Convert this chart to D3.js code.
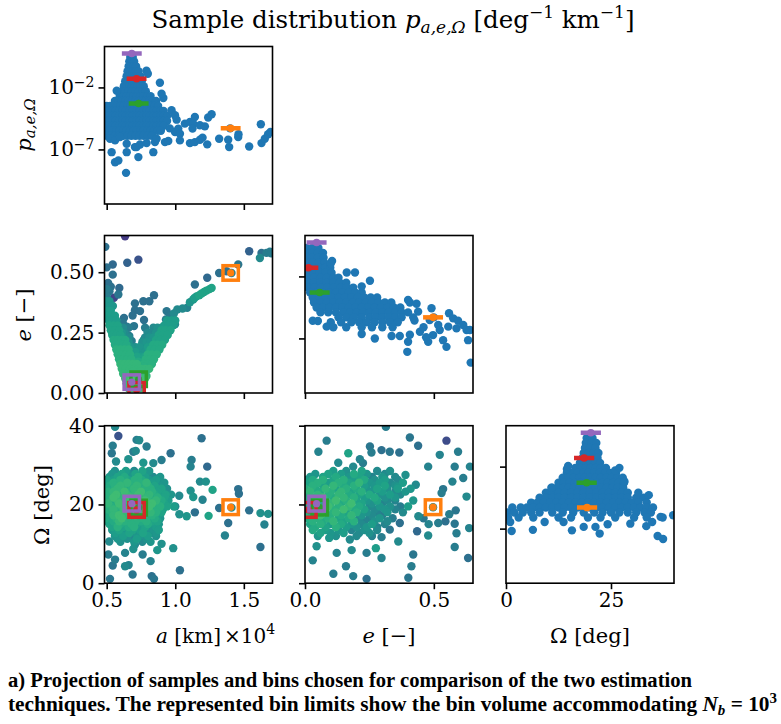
<!DOCTYPE html>
<html>
<head>
<meta charset="utf-8">
<script src="https://cdn.jsdelivr.net/npm/d3@7"></script>
<style>body{margin:0;background:#fff}</style>
</head>
<body>
<div id="canvas"></div>
<script>
// ---- data ----
// p(a): rows of [log10 p, a values (x1e4 km)]
const paRows = [
  [0.45, [0.672, 0.69]],
  [0.1, [0.665, 0.683, 0.70]],
  [-0.3, [0.66, 0.678, 0.696, 0.714]],
  [-0.7, [0.652, 0.672, 0.692, 0.712, 0.732]],
  [-1.1, [0.645, 0.665, 0.685, 0.705, 0.725, 0.745]],
  [-1.5, [0.635, 0.655, 0.675, 0.695, 0.715, 0.735, 0.755]],
  [-1.9, [0.625, 0.645, 0.665, 0.685, 0.705, 0.725, 0.745, 0.77]],
  [-2.3, [0.61, 0.635, 0.66, 0.685, 0.71, 0.735, 0.76, 0.785]],
  [-2.7, [0.595, 0.62, 0.645, 0.67, 0.695, 0.72, 0.745, 0.77, 0.795, 0.82]],
  [-3.1, [0.56, 0.585, 0.61, 0.635, 0.66, 0.685, 0.71, 0.735, 0.76, 0.785, 0.81, 0.835, 0.86]],
  [-3.5, [0.50, 0.525, 0.55, 0.575, 0.60, 0.625, 0.65, 0.675, 0.70, 0.725, 0.75, 0.775, 0.80, 0.825, 0.85, 0.875]],
  [-3.9, [0.49, 0.515, 0.54, 0.565, 0.59, 0.615, 0.64, 0.665, 0.69, 0.715, 0.74, 0.765, 0.79, 0.815, 0.84, 0.865, 0.89, 0.915]],
  [-4.3, [0.49, 0.515, 0.54, 0.565, 0.59, 0.615, 0.64, 0.665, 0.69, 0.715, 0.74, 0.765, 0.79, 0.815, 0.84, 0.865, 0.89, 0.915, 0.94]],
  [-4.7, [0.49, 0.515, 0.54, 0.565, 0.59, 0.615, 0.64, 0.665, 0.69, 0.715, 0.74, 0.765, 0.79, 0.815, 0.84, 0.865, 0.89, 0.915, 0.94]],
  [-5.1, [0.49, 0.515, 0.54, 0.565, 0.59, 0.615, 0.64, 0.665, 0.69, 0.715, 0.74, 0.765, 0.79, 0.815, 0.84, 0.865, 0.89, 0.915]],
  [-5.5, [0.495, 0.52, 0.545, 0.57, 0.595, 0.62, 0.645, 0.67, 0.695, 0.72, 0.745, 0.77, 0.795, 0.82, 0.845, 0.87, 0.895]],
  [-5.9, [0.50, 0.53, 0.56, 0.59, 0.62, 0.65, 0.68, 0.71, 0.74, 0.77, 0.80, 0.83]]
];
// p(a): loose samples [a, log10 p]
const paLoose = [
  [0.573, -2.27], [0.79, -0.65], [0.80, -0.9], [0.888, -1.62], [0.913, -2.85], [0.90, -2.5],
  [0.973, -3.84], [0.998, -4.24], [1.01, -4.6], [1.022, -5.32], [0.998, -5.59], [0.96, -5.3],
  [1.07, -4.92], [1.034, -5.73], [0.524, -6.14], [0.561, -6.27], [0.597, -6.0], [0.646, -6.54],
  [0.718, -6.81], [0.743, -6.6], [0.791, -6.49], [0.852, -6.41], [0.864, -6.14], [0.925, -6.41],
  [0.949, -6.32], [1.034, -6.27], [0.536, -7.22], [0.646, -7.22], [0.706, -6.81], [0.731, -7.62],
  [0.84, -7.22], [0.561, -8.03], [0.585, -7.89], [0.641, -8.89], [1.107, -4.78], [1.143, -4.38],
  [1.131, -4.92], [1.126, -5.32], [1.18, -5.05], [1.216, -5.14], [1.24, -4.43], [1.265, -4.16],
  [1.107, -6.49], [1.143, -6.41], [1.18, -6.22], [1.199, -6.05], [1.233, -6.59], [1.32, -6.14],
  [1.386, -6.22], [1.393, -6.81], [1.459, -6.0], [1.461, -5.78], [1.539, -6.76], [1.624, -4.97],
  [1.629, -6.49], [1.653, -6.14], [1.677, -5.78], [1.694, -5.59], [1.40, -5.3]
];

// p(e): rows of [log10 p, e values]
const peRows = [
  [0.3, [0.005, 0.028, 0.052]],
  [-0.1, [0.005, 0.028, 0.05, 0.07]],
  [-0.5, [0.005, 0.028, 0.05, 0.072]],
  [-0.9, [0.008, 0.03, 0.052, 0.075]],
  [-1.3, [0.01, 0.032, 0.055, 0.078, 0.098]],
  [-1.7, [0.01, 0.033, 0.056, 0.08, 0.103]],
  [-2.1, [0.01, 0.035, 0.06, 0.085, 0.11, 0.13]],
  [-2.5, [0.01, 0.035, 0.06, 0.085, 0.11, 0.135, 0.16]],
  [-2.9, [0.012, 0.037, 0.062, 0.087, 0.112, 0.137, 0.162, 0.187]],
  [-3.3, [0.02, 0.045, 0.07, 0.095, 0.12, 0.145, 0.17, 0.195, 0.22]],
  [-3.7, [0.03, 0.055, 0.08, 0.105, 0.13, 0.155, 0.18, 0.205, 0.23, 0.255, 0.28]],
  [-4.1, [0.035, 0.06, 0.085, 0.11, 0.135, 0.16, 0.185, 0.21, 0.235, 0.26, 0.285, 0.31, 0.335]],
  [-4.5, [0.045, 0.07, 0.095, 0.12, 0.145, 0.17, 0.195, 0.22, 0.245, 0.27, 0.295, 0.32, 0.345, 0.37]],
  [-4.9, [0.06, 0.09, 0.12, 0.15, 0.175, 0.2, 0.225, 0.25, 0.275, 0.3, 0.325, 0.35, 0.375, 0.40]],
  [-5.3, [0.13, 0.16, 0.19, 0.22, 0.25, 0.275, 0.30, 0.325, 0.35, 0.375]],
  [-5.7, [0.10, 0.14, 0.18, 0.21, 0.24, 0.27, 0.30, 0.33, 0.36]],
  [-6.1, [0.16, 0.22, 0.26, 0.30, 0.34]]
];
const peLoose = [
  [0.162, -1.68], [0.194, -1.68], [0.105, -0.75], [0.1, -0.95], [0.252, -2.35], [0.22, -2.8],
  [0.03, -5.57], [0.05, -5.6], [0.084, -6.05], [0.11, -6.1], [0.22, -6.65], [0.271, -7.0],
  [0.336, -6.8], [0.368, -6.8], [0.407, -6.7], [0.40, -7.27], [0.478, -7.27], [0.549, -7.68],
  [0.633, -7.14], [0.397, -8.08], [0.643, -8.95], [0.40, -3.9], [0.407, -4.1], [0.433, -4.2],
  [0.491, -4.57], [0.439, -4.84], [0.484, -5.51], [0.559, -4.97], [0.575, -5.38], [0.594, -5.57],
  [0.588, -6.19], [0.614, -5.92], [0.627, -6.32], [0.556, -6.05], [0.523, -6.32], [0.497, -6.73],
  [0.536, -7.14], [0.517, -5.92], [0.64, -6.32], [0.425, -5.55], [0.446, -6.46], [0.47, -6.9],
  [0.42, -5.3], [0.46, -6.1], [0.50, -5.3]
];

// p(Omega): rows of [log10 p, Omega values (deg)]
const pomRows = [
  [0.3, [19.2, 20.6]],
  [-0.1, [19.0, 20.3, 21.5]],
  [-0.5, [18.8, 20.0, 21.3]],
  [-0.9, [18.5, 19.7, 20.9, 22.0]],
  [-1.3, [18.2, 19.4, 20.6, 21.8]],
  [-1.7, [17.6, 18.8, 20.0, 21.2, 22.4]],
  [-2.1, [16.5, 17.8, 19.0, 20.2, 21.4, 22.6, 23.8]],
  [-2.5, [14.5, 15.8, 17.1, 18.4, 19.7, 21.0, 22.3, 23.6, 24.9, 26.2]],
  [-2.9, [13.5, 14.8, 16.1, 17.4, 18.7, 20.0, 21.3, 22.6, 23.9, 25.2, 26.5, 27.8]],
  [-3.3, [12.5, 13.8, 15.1, 16.4, 17.7, 19.0, 20.3, 21.6, 22.9, 24.2, 25.5, 26.8, 28.1]],
  [-3.7, [11.0, 12.3, 13.6, 14.9, 16.2, 17.5, 18.8, 20.1, 21.4, 22.7, 24.0, 25.3, 26.6, 27.9]],
  [-4.1, [9.5, 11.0, 12.5, 14.0, 15.5, 17.0, 18.5, 20.0, 21.5, 23.0, 24.5, 26.0, 27.5, 29.0]],
  [-4.5, [8.0, 9.5, 11.0, 12.5, 14.0, 15.5, 17.0, 18.5, 20.0, 21.5, 23.0, 24.5, 26.0, 27.5, 29.0, 31.0, 32.8]],
  [-4.9, [6.0, 7.5, 9.0, 10.5, 12.0, 13.5, 15.0, 16.5, 18.0, 19.5, 21.0, 22.5, 24.0, 25.5, 27.0, 28.5, 30.0, 31.5, 33.5]],
  [-5.3, [1.5, 3.5, 5.0, 6.5, 8.0, 9.5, 11.0, 12.5, 14.0, 15.5, 17.0, 18.5, 20.0, 21.5, 23.0, 24.5, 26.0, 27.5, 29.0, 30.5, 32.0, 33.5, 35.0]],
  [-5.7, [0.3, 2.0, 4.0, 6.0, 8.0, 11.0, 13.5, 16.0, 18.5, 21.0, 23.0, 25.0, 27.0, 29.0, 31.0, 33.0, 34.5]],
  [-6.1, [0.5, 3.0, 6.5, 12.5, 15.5, 19.5, 22.5, 26.0, 30.5, 33.5]]
];
const pomLoose = [
  [1.0, -6.46], [6.4, -7.1], [9.2, -6.46], [13.7, -6.46], [15.7, -7.14], [18.5, -6.86], [21.3, -6.86],
  [22.3, -7.4], [24.2, -6.65], [29.6, -6.6], [33.4, -6.8], [34.8, -6.46], [36.1, -7.6], [37.4, -7.84],
  [1.35, -7.19], [39.8, -5.92], [36.8, -6.05], [37.3, -6.1], [34.0, -4.3], [31.5, -4.1], [14.5, -2.2],
  [26.0, -2.3], [28.2, -3.2], [10.8, -3.7], [27.0, -2.1], [14.8, -1.95]
];

// e(a): V-shaped arms as rows of [e, log10 p, a values]
const aeArms = [
  [0.38, -5, [0.495, 0.52]], [0.36, -5, [0.50, 0.525, 0.545]], [0.34, -4.5, [0.505, 0.53]],
  [0.32, -4.5, [0.51, 0.535, 0.56]], [0.30, -4.5, [0.515, 0.54, 0.57]], [0.28, -4, [0.52, 0.55, 0.58]],
  [0.26, -4, [0.53, 0.56, 0.59]], [0.24, -4, [0.54, 0.57, 0.60]], [0.22, -3.5, [0.55, 0.58, 0.61, 0.635]],
  [0.20, -3.5, [0.56, 0.59, 0.62, 0.645]], [0.18, -3, [0.57, 0.60, 0.63, 0.66]],
  [0.16, -3, [0.58, 0.61, 0.64, 0.67]], [0.14, -3, [0.59, 0.62, 0.65, 0.68]],
  [0.12, -2.5, [0.60, 0.63, 0.66, 0.69, 0.72]], [0.10, -2.5, [0.61, 0.64, 0.67, 0.70, 0.73]],
  [0.08, -2.5, [0.62, 0.65, 0.68, 0.71, 0.74, 0.77]], [0.06, -2, [0.635, 0.66, 0.69, 0.72, 0.75, 0.78]],
  [0.04, -2, [0.645, 0.675, 0.705, 0.735, 0.765]], [0.02, -2, [0.66, 0.69, 0.72, 0.75]],
  [0.30, -4.5, [0.94, 0.97, 1.0]], [0.28, -4.5, [0.92, 0.95, 0.985]], [0.26, -4, [0.90, 0.93, 0.965]],
  [0.24, -4, [0.88, 0.91, 0.945]], [0.22, -4, [0.86, 0.89, 0.925]], [0.20, -3.5, [0.84, 0.87, 0.905]],
  [0.18, -3.5, [0.82, 0.85, 0.885]], [0.16, -3, [0.80, 0.83, 0.865]], [0.14, -3, [0.785, 0.815, 0.845]],
  [0.12, -3, [0.77, 0.80, 0.83]], [0.10, -2.5, [0.75, 0.78, 0.81]]
];
// e(a): loose samples [a, e, log10 p]
const aeLoose = [
  [0.634, 0.649, -11.5], [0.49, 0.605, -8], [0.544, 0.532, -8.5], [0.50, 0.52, -8], [0.544, 0.49, -8],
  [0.65, 0.539, -9], [0.731, 0.552, -10], [0.51, 0.456, -8], [0.53, 0.44, -8], [0.592, 0.435, -8.5],
  [0.52, 0.421, -7.5], [0.553, 0.394, -11], [0.585, 0.408, -7.5], [0.50, 0.40, -7], [0.50, 0.43, -7],
  [0.706, 0.371, -8], [0.767, 0.38, -8], [0.811, 0.38, -8], [0.845, 0.405, -8], [0.706, 0.343, -8],
  [0.743, 0.339, -8], [0.689, 0.321, -8], [0.772, 0.302, -8], [0.626, 0.311, -8], [0.617, 0.291, -7.5],
  [0.646, 0.274, -7.5], [0.699, 0.277, -7.5], [0.665, 0.236, -7], [0.682, 0.215, -7],
  [0.937, 0.339, -7.5], [0.961, 0.321, -7.5], [0.932, 0.304, -7], [0.998, 0.284, -6], [0.913, 0.249, -6.5],
  [0.876, 0.229, -6], [0.84, 0.201, -6], [0.816, 0.249, -7], [0.791, 0.222, -7.5], [0.755, 0.194, -6],
  [0.66, 0.27, -7], [0.64, 0.23, -6], [0.68, 0.19, -5.5], [0.77, 0.22, -6], [0.80, 0.20, -5],
  [0.74, 0.17, -5.5], [0.70, 0.15, -5], [0.78, 0.13, -4.5], [0.66, 0.12, -4], [0.72, 0.11, -4],
  [0.78, 0.27, -7], [0.80, 0.25, -6], [0.72, 0.18, -5], [0.76, 0.16, -5], [0.70, 0.13, -4.5],
  [1.015, 0.346, -6], [1.053, 0.35, -6], [1.087, 0.353, -6.5], [0.99, 0.329, -6],
  [1.265, 0.435, -4], [1.25, 0.43, -4], [1.228, 0.424, -4], [1.21, 0.418, -4], [1.192, 0.412, -4],
  [1.175, 0.405, -4], [1.155, 0.40, -4.5], [1.14, 0.393, -4.5], [1.131, 0.387, -5], [1.107, 0.376, -5],
  [1.143, 0.449, -8], [1.233, 0.477, -8.5], [1.32, 0.497, -8], [1.374, 0.504, -8], [1.41, 0.497, -7],
  [1.459, 0.532, -7.5], [1.539, 0.587, -9], [1.617, 0.559, -6], [1.629, 0.58, -8], [1.665, 0.58, -7],
  [1.69, 0.585, -7], [1.70, 0.578, -7]
];
// e(a): samples filling the inside of the V [a, e, log10 p]
const aeInner = [
  [0.62, 0.27, -6], [0.84, 0.27, -6], [0.87, 0.27, -5.5], [0.90, 0.27, -6],
  [0.61, 0.25, -5], [0.63, 0.25, -6], [0.80, 0.25, -6.5], [0.83, 0.25, -6], [0.86, 0.25, -5.5],
  [0.62, 0.23, -5], [0.66, 0.23, -6], [0.78, 0.23, -6], [0.81, 0.23, -5.5], [0.84, 0.23, -5],
  [0.63, 0.21, -5], [0.66, 0.21, -5.5], [0.76, 0.21, -5.5], [0.79, 0.21, -5], [0.82, 0.21, -5],
  [0.64, 0.19, -4.5], [0.67, 0.19, -5], [0.71, 0.19, -5.5], [0.74, 0.19, -5], [0.77, 0.19, -5.5], [0.80, 0.19, -4.5],
  [0.65, 0.17, -4.5], [0.68, 0.17, -5], [0.71, 0.17, -4.5], [0.78, 0.17, -5], [0.81, 0.17, -4],
  [0.66, 0.15, -4], [0.69, 0.15, -4.5], [0.72, 0.15, -4], [0.75, 0.15, -4.5], [0.78, 0.15, -4],
  [0.67, 0.13, -3.5], [0.70, 0.13, -4], [0.73, 0.13, -3.5], [0.76, 0.13, -4], [0.79, 0.13, -3.5],
  [0.68, 0.11, -3.5], [0.71, 0.11, -3], [0.74, 0.11, -3.5], [0.77, 0.11, -3], [0.80, 0.11, -3.5],
  [0.66, 0.09, -3], [0.69, 0.09, -2.5], [0.72, 0.09, -3], [0.75, 0.09, -2.5], [0.78, 0.09, -3],
  [0.64, 0.07, -2.5], [0.67, 0.07, -2], [0.70, 0.07, -2.5], [0.73, 0.07, -2], [0.76, 0.07, -2.5], [0.79, 0.07, -2.5],
  [0.65, 0.05, -2], [0.68, 0.05, -1.5], [0.71, 0.05, -2], [0.74, 0.05, -1.5], [0.77, 0.05, -2],
  [0.66, 0.03, -2], [0.70, 0.03, -1.5], [0.73, 0.03, -2], [0.76, 0.03, -2]
];

// Omega(a): rows of [Omega, [[a, log10 p], ...]]
const aomRows = [
  [28.5, [[0.56, -5.5], [0.64, -4.5], [0.70, -6], [0.76, -4], [0.81, -5]]],
  [27.75, [[0.54, -5], [0.61, -4], [0.66, -5.5], [0.71, -4], [0.79, -5.5]]],
  [27, [[0.52, -5], [0.58, -4], [0.63, -3.5], [0.68, -5], [0.73, -3], [0.78, -4.5], [0.84, -6], [0.89, -5]]],
  [26.25, [[0.50, -4], [0.55, -4.5], [0.60, -3], [0.655, -4], [0.705, -3], [0.755, -3.5], [0.81, -5], [0.86, -4.5]]],
  [25.5, [[0.50, -4.5], [0.55, -3], [0.60, -4], [0.65, -2.5], [0.70, -3.5], [0.74, -3], [0.79, -2.5], [0.83, -4.5], [0.87, -5.5], [0.92, -5]]],
  [24.75, [[0.52, -3.5], [0.56, -3], [0.60, -2.5], [0.64, -3.5], [0.68, -3], [0.72, -2.5], [0.76, -4], [0.80, -3], [0.85, -4], [0.89, -5]]],
  [24, [[0.50, -3.5], [0.54, -5], [0.58, -2.5], [0.62, -3], [0.66, -4], [0.70, -2.5], [0.74, -3.5], [0.78, -3], [0.82, -3], [0.86, -4.5], [0.90, -4], [0.94, -5.5]]],
  [23.25, [[0.51, -3], [0.55, -2.5], [0.59, -3.5], [0.63, -2], [0.67, -3], [0.71, -2.5], [0.75, -2], [0.79, -3.5], [0.83, -3], [0.87, -4], [0.91, -5]]],
  [22.5, [[0.49, -4], [0.53, -3], [0.57, -2], [0.61, -3.5], [0.65, -2.5], [0.69, -3], [0.73, -2], [0.77, -3], [0.81, -2.5], [0.85, -3.5], [0.89, -4.5], [0.93, -4], [0.97, -5]]],
  [21.75, [[0.51, -3], [0.55, -2], [0.59, -3], [0.63, -2.5], [0.67, -2], [0.71, -3], [0.75, -3], [0.79, -2.5], [0.83, -3.5], [0.87, -3], [0.92, -4]]],
  [21, [[0.50, -3.5], [0.54, -4.5], [0.58, -2.5], [0.62, -3], [0.66, -2], [0.70, -3.5], [0.74, -2.5], [0.78, -2], [0.82, -3], [0.86, -2.5], [0.90, -3.5], [0.95, -4.5]]],
  [20.25, [[0.51, -2.5], [0.55, -3.5], [0.59, -2], [0.63, -3], [0.67, -2.5], [0.71, -2], [0.75, -3], [0.79, -2.5], [0.83, -2], [0.87, -3.5], [0.92, -4]]],
  [19.5, [[0.49, -4], [0.53, -3], [0.57, -3.5], [0.61, -2.5], [0.65, -3], [0.69, -2], [0.73, -3], [0.77, -2.5], [0.81, -2], [0.85, -3], [0.89, -3], [0.94, -4], [0.99, -4.5]]],
  [18.75, [[0.51, -3], [0.55, -2.5], [0.59, -3], [0.63, -2], [0.67, -2.5], [0.71, -3.5], [0.75, -2.5], [0.79, -3], [0.83, -3], [0.87, -3.5], [0.91, -4.5]]],
  [18, [[0.50, -4.5], [0.54, -3], [0.58, -4], [0.62, -2.5], [0.66, -3.5], [0.70, -3], [0.74, -2], [0.78, -3.5], [0.82, -2.5], [0.86, -3], [0.90, -4]]],
  [17.25, [[0.51, -3.5], [0.55, -2.5], [0.59, -2], [0.63, -3.5], [0.67, -2.5], [0.71, -2], [0.75, -3], [0.79, -4], [0.83, -3], [0.87, -4.5]]],
  [16.5, [[0.49, -3.5], [0.53, -4], [0.57, -3], [0.61, -2], [0.65, -3], [0.69, -4], [0.73, -3], [0.77, -3], [0.81, -4], [0.85, -3.5], [0.89, -5]]],
  [15.75, [[0.51, -4], [0.55, -3.5], [0.59, -2.5], [0.63, -3], [0.67, -4], [0.71, -3], [0.75, -3.5], [0.79, -3], [0.83, -4], [0.87, -4]]],
  [15, [[0.52, -4], [0.56, -5], [0.60, -3.5], [0.64, -4.5], [0.68, -3], [0.72, -4], [0.76, -5], [0.80, -3.5], [0.84, -4.5], [0.88, -5]]],
  [14.25, [[0.54, -4], [0.58, -3], [0.62, -4], [0.66, -3.5], [0.70, -3], [0.74, -4.5], [0.78, -4], [0.82, -5], [0.86, -4.5]]],
  [13.5, [[0.54, -5], [0.59, -4], [0.64, -5.5], [0.69, -4], [0.74, -4.5], [0.79, -6], [0.84, -5], [0.88, -4.5]]],
  [12.75, [[0.565, -4.5], [0.615, -5], [0.665, -4], [0.715, -5], [0.765, -4], [0.815, -5.5], [0.86, -5]]],
  [12, [[0.56, -5], [0.62, -4.5], [0.68, -6], [0.74, -5], [0.80, -4.5], [0.86, -5.5]]],
  [11.25, [[0.58, -5], [0.65, -5.5], [0.72, -4.5], [0.79, -5.5]]],
  [10.5, [[0.60, -5.5], [0.70, -5], [0.76, -6], [0.82, -5]]]
];
const aomLoose = [
  [0.561, 39.7, -6], [0.585, 37.4, -10], [1.192, 36.8, -8], [0.718, 36.4, -7], [0.737, 36.3, -6],
  [0.544, 34.9, -7], [0.537, 33.0, -7.5], [0.694, 33.4, -7], [0.712, 33.6, -6], [0.791, 34.7, -7],
  [0.966, 33.0, -8], [0.658, 31.5, -5.5], [0.568, 30.9, -6], [0.767, 30.6, -5], [0.84, 30.5, -6],
  [0.90, 31.3, -7], [1.119, 31.3, -7], [1.112, 29.6, -6.5], [1.233, 29.6, -8.5], [1.18, 25.8, -6],
  [1.223, 25.8, -5.5], [1.272, 23.7, -4], [1.112, 23.5, -5.5], [1.131, 21.9, -5], [1.199, 21.2, -6.5],
  [1.029, 22.2, -6], [1.459, 23.9, -8], [1.464, 22.7, -8], [1.32, 19.1, -8], [1.41, 19.2, -6],
  [1.539, 18.5, -8], [1.621, 17.8, -5.5], [1.677, 17.6, -5.5], [1.65, 14.9, -6.5], [1.386, 15.3, -8],
  [1.362, 12.1, -6.5], [1.621, 9.2, -8], [1.243, 17.1, -4], [1.083, 17.0, -5], [1.143, 18.0, -8],
  [1.0, 19.5, -6], [1.03, 17.5, -5.5], [0.519, 10.6, -6], [0.512, 7.3, -7], [0.561, 6.0, -7],
  [0.544, 4.5, -7.5], [0.524, 1.1, -7.5], [0.634, 7.7, -6.5], [0.694, 8.7, -5.5], [0.706, 9.8, -6],
  [0.762, 7.3, -7], [0.82, 5.6, -6.5], [0.689, 2.2, -7.5], [0.828, 1.8, -8], [0.845, 1.1, -7.5],
  [1.034, 3.3, -8], [0.985, 8.9, -5.5], [0.869, 8.4, -5], [0.634, 4.3, -6], [0.66, 4.6, -6.5], [0.90, 10.0, -5.5]
];

// Omega(e): rows of [Omega, [[e, log10 p], ...]]
const eomRows = [
  [28.5, [[0.11, -4.5], [0.16, -5.5], [0.22, -4], [0.28, -6], [0.33, -5.5]]],
  [27.75, [[0.04, -5], [0.09, -4], [0.14, -4.5], [0.19, -3.5], [0.24, -5], [0.31, -6]]],
  [27, [[0.02, -5], [0.07, -4], [0.12, -3.5], [0.17, -5], [0.21, -4], [0.26, -6.5], [0.30, -5], [0.35, -6]]],
  [26.25, [[0.00, -4.5], [0.03, -3.5], [0.07, -3], [0.11, -4], [0.15, -3], [0.19, -4.5], [0.23, -3.5], [0.27, -5.5], [0.31, -4.5], [0.36, -6]]],
  [25.5, [[0.01, -4], [0.05, -3], [0.09, -4.5], [0.13, -3], [0.17, -4], [0.21, -2.5], [0.25, -5], [0.29, -4.5], [0.33, -6], [0.38, -4.5]]],
  [24.75, [[0.03, -3], [0.07, -4], [0.11, -2.5], [0.15, -3.5], [0.19, -3], [0.23, -4.5], [0.27, -5], [0.31, -4], [0.35, -5.5]]],
  [24, [[0.00, -3], [0.04, -3.5], [0.08, -2.5], [0.12, -4], [0.16, -3], [0.20, -3.5], [0.24, -5], [0.28, -4], [0.32, -5.5], [0.36, -4.5], [0.41, -5]]],
  [23.25, [[0.02, -2.5], [0.06, -3.5], [0.10, -3], [0.14, -2.5], [0.18, -4], [0.22, -3], [0.26, -5], [0.30, -4.5], [0.35, -6], [0.39, -5]]],
  [22.5, [[0.01, -3.5], [0.05, -2.5], [0.09, -3], [0.13, -2.5], [0.17, -3.5], [0.21, -4], [0.25, -3.5], [0.29, -5.5], [0.33, -4.5], [0.37, -6]]],
  [21.75, [[0.03, -3], [0.07, -2], [0.11, -3.5], [0.15, -2.5], [0.19, -3], [0.23, -4.5], [0.27, -3.5], [0.31, -5.5], [0.35, -5]]],
  [21, [[0.00, -3], [0.04, -2.5], [0.08, -3.5], [0.12, -2], [0.16, -3], [0.20, -4], [0.24, -5], [0.28, -4], [0.32, -6]]],
  [20.25, [[0.02, -2.5], [0.06, -3.5], [0.10, -2.5], [0.14, -3.5], [0.18, -2], [0.22, -4], [0.26, -5.5], [0.30, -6.5]]],
  [19.5, [[0.01, -3.5], [0.05, -3], [0.09, -2], [0.13, -3], [0.17, -2.5], [0.21, -3.5], [0.25, -6], [0.29, -5], [0.33, -5.5], [0.37, -7]]],
  [18.75, [[0.03, -3], [0.07, -2.5], [0.11, -3], [0.15, -2], [0.19, -3.5], [0.23, -4], [0.27, -6], [0.31, -5], [0.35, -6.5]]],
  [18, [[0.00, -3], [0.04, -2.5], [0.08, -3.5], [0.12, -2.5], [0.16, -4], [0.20, -3], [0.24, -5.5], [0.28, -6.5], [0.32, -5], [0.38, -6]]],
  [17.25, [[0.02, -3.5], [0.06, -2], [0.10, -3], [0.14, -3.5], [0.18, -2.5], [0.22, -5], [0.26, -6], [0.30, -7]]],
  [16.5, [[0.01, -3.5], [0.05, -3], [0.09, -3], [0.13, -4], [0.17, -3.5], [0.21, -6], [0.25, -6.5], [0.29, -5], [0.34, -7]]],
  [15.75, [[0.03, -3], [0.07, -3.5], [0.11, -2.5], [0.15, -4], [0.19, -3], [0.23, -6.5], [0.27, -5.5], [0.32, -6]]],
  [15, [[0.02, -4], [0.06, -3], [0.10, -4.5], [0.14, -3.5], [0.18, -5], [0.22, -6], [0.26, -4.5], [0.31, -6.5]]],
  [14.25, [[0.04, -3.5], [0.08, -4], [0.12, -3], [0.16, -4.5], [0.20, -5.5], [0.24, -5], [0.28, -6.5]]],
  [13.5, [[0.03, -3.5], [0.08, -4.5], [0.13, -5], [0.18, -6.5], [0.23, -5.5], [0.28, -6]]],
  [12.75, [[0.06, -4], [0.10, -5], [0.15, -4.5], [0.21, -6], [0.25, -5.5]]],
  [12, [[0.05, -5], [0.12, -5.5], [0.20, -6], [0.26, -6.5]]]
];
const eomLoose = [
  [0.314, 39.7, -7], [0.407, 37.0, -7.5], [0.084, 36.2, -7], [0.549, 36.2, -10.5], [0.052, 33.4, -6.5],
  [0.252, 34.7, -7.5], [0.258, 33.2, -7], [0.439, 34.9, -8], [0.329, 33.4, -7.5], [0.366, 33.2, -8],
  [0.523, 32.6, -6.5], [0.594, 33.4, -7], [0.168, 33.0, -4], [0.129, 30.6, -6], [0.187, 29.6, -6],
  [0.213, 31.5, -6.5], [0.297, 33.8, -8], [0.225, 30.5, -7], [0.478, 29.6, -6.5], [0.581, 29.6, -7],
  [0.64, 29.6, -6.5], [0.614, 26.7, -7], [0.572, 25.8, -6.5], [0.536, 23.9, -7.5], [0.53, 22.9, -7],
  [0.627, 22.0, -6], [0.585, 18.5, -7.5], [0.545, 15.7, -8], [0.581, 15.1, -7.5], [0.517, 15.3, -7],
  [0.588, 12.7, -7], [0.637, 14.0, -6.5], [0.581, 9.2, -7], [0.633, 6.4, -8], [0.478, 12.1, -6],
  [0.435, 13.2, -8.5], [0.368, 15.3, -8], [0.42, 7.3, -7.5], [0.413, 4.3, -7], [0.401, 1.4, -7.5],
  [0.362, 10.6, -6], [0.275, 8.9, -4.5], [0.11, 2.4, -7], [0.187, 1.8, -7], [0.239, 1.1, -8],
  [0.159, 4.3, -7], [0.123, 7.7, -6.5], [0.181, 8.4, -6], [0.239, 7.7, -7], [0.297, 6.4, -6.5],
  [0.03, 5.8, -6.5], [0.045, 9.4, -5.5], [0.094, 11.5, -5], [0.174, 11.1, -6], [0.297, 11.7, -7],
  [0.329, 13.6, -7.5], [0.497, 19.3, -6], [0.44, 17, -6], [0.42, 21, -5], [0.40, 19.5, -4.5],
  [0.46, 16.5, -7.5], [0.35, 21, -6.5], [0.36, 24.5, -5], [0.39, 27.5, -5.5], [0.43, 25, -6],
  [0.56, 17.5, -7], [0.48, 15, -6.5]
];

// chosen bins: purple, red, green, orange
const binColors = ["#9467bd", "#d62728", "#2ca02c", "#ff7f0e"];
const binA = [0.683, 0.718, 0.733, 1.404];
const binE = [0.045, 0.013, 0.057, 0.497];
const binOm = [20.2, 18.6, 19.2, 19.3];
const binLogP = [0.73, -1.3, -3.3, -5.3];
const binHalfA = 0.056, binHalfE = 0.030, binHalfOm = 1.87;

// axis settings
const aDomain = [0.484, 1.709], eDomain = [0, 0.652], omDomain = [0, 40], logPDomain = [-11.4, 1.3];
const aTicks = [0.5, 1.0, 1.5], eTicksX = [0, 0.5], eTicksY = [0, 0.25, 0.5];
const omTicksY = [0, 20, 40], omTicksX = [0, 25], pTicks = [1e-2, 1e-7];

// ---- layout ----
const colX = [104.5, 305, 506], rowY = [46.5, 235.5, 425.7];
const pw = 168, ph = 157.5;
const tickFont = "DejaVu Serif";
const blue = "#1f77b4";
const dotR = 4.2;

const svg = d3.select("#canvas").append("svg")
  .attr("width", 781).attr("height", 724)
  .style("font-family", tickFont);

const xA = d3.scaleLinear().domain(aDomain).range([0, pw]);
const xE = d3.scaleLinear().domain(eDomain).range([0, pw]);
const xOm = d3.scaleLinear().domain(omDomain).range([0, pw]);
const yP = d3.scaleLog().domain(logPDomain.map(v => Math.pow(10, v))).range([ph, 0]);
const yE = d3.scaleLinear().domain(eDomain).range([ph, 0]);
const yOm = d3.scaleLinear().domain(omDomain).range([ph, 0]);
const color = d3.scaleSequential(d3.interpolateViridis).domain([-14.7, 3.7]);

const flat1 = rows => rows.flatMap(([lp, xs]) => xs.map(x => [x, lp]));
const flat2 = rows => rows.flatMap(([y, pts]) => pts.map(([x, lp]) => [x, y, lp]));

let clipId = 0;
function panel(ci, ri) {
  const g = svg.append("g").attr("transform", "translate(" + colX[ci] + "," + rowY[ri] + ")");
  const id = "clip" + (clipId++);
  g.append("clipPath").attr("id", id).append("rect").attr("width", pw).attr("height", ph);
  const inner = g.append("g").attr("clip-path", "url(#" + id + ")");
  return { g, inner };
}

function axis(g, orient, scale, vals, fmt) {
  const ax = (orient === "left" ? d3.axisLeft(scale) : d3.axisBottom(scale))
    .tickValues(vals).tickSize(6).tickPadding(4)
    .tickFormat(fmt || (() => ""));
  const sel = g.append("g")
    .attr("transform", orient === "left" ? null : "translate(0," + ph + ")")
    .call(ax);
  sel.select(".domain").remove();
  sel.selectAll("line").attr("stroke", "#000").attr("stroke-width", 1.6);
  sel.selectAll("text").attr("font-family", tickFont).attr("font-size", 20).attr("fill", "#000");
  return sel;
}

function frame(g) {
  g.append("rect").attr("width", pw).attr("height", ph)
    .attr("fill", "none").attr("stroke", "#000").attr("stroke-width", 1.6);
}

// diagonal: blue dots, bins as horizontal bars
function diagPanel(ci, ri, pts, xs, binX, half) {
  const { g, inner } = panel(ci, ri);
  inner.selectAll("circle.s").data(pts).join("circle").attr("class", "s")
    .attr("cx", d => xs(d[0])).attr("cy", d => yP(Math.pow(10, d[1])))
    .attr("r", dotR).attr("fill", blue);
  binColors.forEach((c, i) => {
    const y = yP(Math.pow(10, binLogP[i]));
    inner.append("line")
      .attr("x1", xs(binX[i] - half)).attr("x2", xs(binX[i] + half))
      .attr("y1", y).attr("y2", y)
      .attr("stroke", c).attr("stroke-width", 4.5).attr("stroke-linecap", "square");
    inner.append("circle").attr("cx", xs(binX[i])).attr("cy", y).attr("r", 3.8).attr("fill", c);
  });
  return g;
}

// off-diagonal: viridis dots coloured by p, bins as squares
function offPanel(ci, ri, pts, xs, ys, binX, halfX, binY, halfY) {
  const { g, inner } = panel(ci, ri);
  const sorted = pts.slice().sort((a, b) => a[2] - b[2]);
  inner.selectAll("circle.s").data(sorted).join("circle").attr("class", "s")
    .attr("cx", d => xs(d[0])).attr("cy", d => ys(d[1]))
    .attr("r", dotR).attr("fill", d => color(d[2]));
  [2, 1, 0, 3].forEach(i => {
    const x0 = xs(binX[i] - halfX), x1 = xs(binX[i] + halfX);
    const y0 = ys(binY[i] + halfY), y1 = ys(binY[i] - halfY);
    inner.append("rect").attr("x", x0).attr("y", y0)
      .attr("width", x1 - x0).attr("height", y1 - y0)
      .attr("fill", "none").attr("stroke", binColors[i]).attr("stroke-width", 3.5);
    inner.append("circle").attr("cx", xs(binX[i])).attr("cy", ys(binY[i]))
      .attr("r", 3.6).attr("fill", binColors[i]);
  });
  return g;
}

function logLabels(sel) {
  sel.selectAll(".tick text").each(function (d) {
    const t = d3.select(this).text("10");
    t.append("tspan").attr("dy", "-0.5em").attr("font-size", 14)
      .text("\u2212" + Math.round(-Math.log10(d)));
  });
}

// row 1: p(a)
const g1 = diagPanel(0, 0, flat1(paRows).concat(paLoose), xA, binA, binHalfA);
logLabels(axis(g1, "left", yP, pTicks, () => "x"));
axis(g1, "bottom", xA, aTicks);
frame(g1);

// row 2: e(a), p(e)
const g2 = offPanel(0, 1,
  aeArms.flatMap(([e, lp, as]) => as.map(a => [a, e, lp])).concat(aeLoose, aeInner),
  xA, yE, binA, binHalfA, binE, binHalfE);
axis(g2, "left", yE, eTicksY, d3.format(".2f"));
axis(g2, "bottom", xA, aTicks);
frame(g2);

const g3 = diagPanel(1, 1, flat1(peRows).concat(peLoose), xE, binE, binHalfE);
axis(g3, "left", yP, pTicks);
axis(g3, "bottom", xE, eTicksX);
frame(g3);

// row 3: Omega(a), Omega(e), p(Omega)
const g4 = offPanel(0, 2, flat2(aomRows).concat(aomLoose), xA, yOm, binA, binHalfA, binOm, binHalfOm);
axis(g4, "left", yOm, omTicksY, d3.format("d"));
axis(g4, "bottom", xA, aTicks, d3.format(".1f"));
frame(g4);

const g5 = offPanel(1, 2, flat2(eomRows).concat(eomLoose), xE, yOm, binE, binHalfE, binOm, binHalfOm);
axis(g5, "left", yOm, omTicksY);
axis(g5, "bottom", xE, eTicksX, d3.format(".1f"));
frame(g5);

const g6 = diagPanel(2, 2, flat1(pomRows).concat(pomLoose), xOm, binOm, binHalfOm);
axis(g6, "left", yP, pTicks);
axis(g6, "bottom", xOm, omTicksX, d3.format("d"));
frame(g6);

// ---- text ----
const title = svg.append("text").attr("x", 393).attr("y", 28)
  .attr("text-anchor", "middle").attr("font-size", 24.5);
title.append("tspan").text("Sample distribution ");
title.append("tspan").attr("font-style", "italic").text("p");
title.append("tspan").attr("font-style", "italic").attr("font-size", 17).attr("dy", 5).text("a,e,\u03A9");
title.append("tspan").attr("dy", -5).text(" [deg");
title.append("tspan").attr("font-size", 17).attr("dy", -10).text("\u22121");
title.append("tspan").attr("dy", 10).text(" km");
title.append("tspan").attr("font-size", 17).attr("dy", -10).text("\u22121");
title.append("tspan").attr("dy", 10).text("]");

// y labels
const yl1 = svg.append("text").attr("transform", "translate(31,125) rotate(-90)")
  .attr("text-anchor", "middle").attr("font-size", 21);
yl1.append("tspan").attr("font-style", "italic").text("p");
yl1.append("tspan").attr("font-style", "italic").attr("font-size", 15).attr("dy", 4).text("a,e,\u03A9");

const yl2 = svg.append("text").attr("transform", "translate(31,315) rotate(-90)")
  .attr("text-anchor", "middle").attr("font-size", 21);
yl2.append("tspan").attr("font-style", "italic").text("e");
yl2.append("tspan").text(" [\u2212]");

svg.append("text").attr("transform", "translate(49,505) rotate(-90)")
  .attr("text-anchor", "middle").attr("font-size", 21).text("\u03A9 [deg]");

// x labels
const xl1 = svg.append("text").attr("x", 221).attr("y", 643)
  .attr("text-anchor", "end").attr("font-size", 20);
xl1.append("tspan").attr("font-style", "italic").text("a");
xl1.append("tspan").text(" [km]");
const off = svg.append("text").attr("x", 224).attr("y", 643)
  .attr("text-anchor", "start").attr("font-size", 20);
off.append("tspan").text("\u00D710");
off.append("tspan").attr("font-size", 14).attr("dy", -9).text("4");

const xl2 = svg.append("text").attr("x", 389).attr("y", 643)
  .attr("text-anchor", "middle").attr("font-size", 21);
xl2.append("tspan").attr("font-style", "italic").text("e");
xl2.append("tspan").text(" [\u2212]");

svg.append("text").attr("x", 590).attr("y", 643)
  .attr("text-anchor", "middle").attr("font-size", 21).text("\u03A9 [deg]");

// caption
const capFont = "Liberation Serif";
svg.append("text").attr("x", 8).attr("y", 687)
  .attr("font-family", capFont).attr("font-weight", "bold").attr("font-size", 20)
  .attr("textLength", 684).attr("lengthAdjust", "spacingAndGlyphs")
  .text("a) Projection of samples and bins chosen for comparison of the two estimation");
const cap2 = svg.append("text").attr("x", 8).attr("y", 711)
  .attr("font-family", capFont).attr("font-weight", "bold").attr("font-size", 20)
  .attr("textLength", 769).attr("lengthAdjust", "spacingAndGlyphs");
cap2.append("tspan").text("techniques. The represented bin limits show the bin volume accommodating ");
cap2.append("tspan").attr("font-style", "italic").text("N");
cap2.append("tspan").attr("font-style", "italic").attr("font-size", 14).attr("dy", 4).text("b");
cap2.append("tspan").attr("dy", -4).text(" = 10");
cap2.append("tspan").attr("font-size", 14).attr("dy", -8).text("3");
</script>
</body>
</html>
